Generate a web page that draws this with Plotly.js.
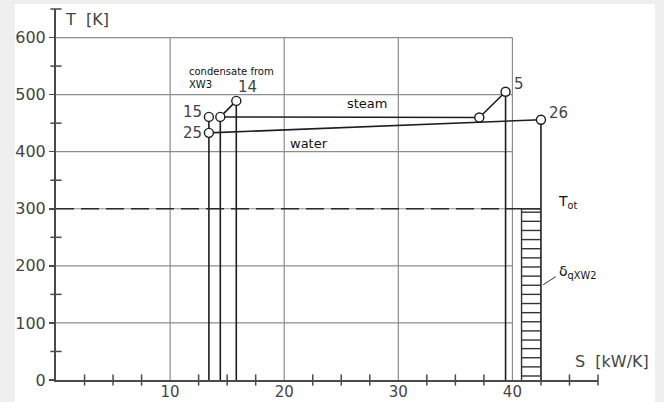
<!DOCTYPE html>
<html>
<head>
<meta charset="utf-8">
<script src="https://cdn.plot.ly/plotly-3.0.1.min.js"></script>
<style>
  html, body { margin: 0; padding: 0; background: #efefef; width: 664px; height: 402px; overflow: hidden; }
  #chart { position: absolute; left: 15px; top: 4px; width: 640px; height: 398px; background: #fff; }
</style>
</head>
<body>
<div id="chart"></div>
<script>
// ---- data ----
const stateS = [13.4, 13.4, 14.4, 15.8, 37.1, 39.4, 42.5];   // entropy flow S [kW/K]
const stateT = [433, 461, 461, 489, 460, 505, 456];          // temperature T [K]
const stateLabels = ['25', '15', '', '14', '', '5', '26'];
const steamPath = [3, 2, 4, 5];        // 14 -> 15' -> 5' -> 5
const waterPath = [0, 6];              // 25 -> 26
const link15to25 = [1, 0];
const dropPoints = [0, 2, 3, 5, 6];    // vertical lines down to T = 0
const Tot = 300;                       // ambient temperature
const hatchS = [40.8, 42.5];           // strip of heat delta q XW2
const hatchT = [7, 23, 39, 55, 70, 86, 102, 118, 134, 150, 166, 182, 198, 214, 230, 246, 262, 278, 294, 300];
const xGrid = [10, 20, 30, 40];
const yGrid = [100, 200, 300, 400, 500, 600];
const xTickVals = [10, 20, 30, 40];
const yTickVals = [0, 100, 200, 300, 400, 500, 600];
const xMinorTicks = [2.5, 5, 7.5, 12.5, 15, 17.5, 22.5, 25, 27.5, 32.5, 35, 37.5, 42.5, 45, 47.5];
const yMinorTicks = [50, 150, 250, 350, 450, 550, 650];

// ---- build traces ----
const FONT = 'DejaVu Sans, Verdana, sans-serif';
const LINE = '#1e1e1e';
const AX = '#4a4a4a';

const lx = [], ly = [];
function seg(idx) { idx.forEach(i => { lx.push(stateS[i]); ly.push(stateT[i]); }); lx.push(null); ly.push(null); }
seg(steamPath);
seg(waterPath);
seg(link15to25);
dropPoints.forEach(i => { lx.push(stateS[i], stateS[i], null); ly.push(stateT[i], 0, null); });

const hx = [hatchS[0], hatchS[0], hatchS[1], null];
const hy = [0, Tot, Tot, null];
hatchT.forEach(t => { hx.push(hatchS[0], hatchS[1], null); hy.push(t, t, null); });

const traces = [
  { x: lx, y: ly, mode: 'lines', line: { color: LINE, width: 1.6 }, hoverinfo: 'skip' },
  { x: [0, hatchS[0]], y: [Tot, Tot], mode: 'lines', line: { color: '#2a2a2a', width: 1.6, dash: '18px,7px' }, hoverinfo: 'skip' },
  { x: hx, y: hy, mode: 'lines', line: { color: '#333', width: 1.4 }, hoverinfo: 'skip' },
  { x: stateS, y: stateT, mode: 'markers', marker: { size: 9, color: '#fff', line: { color: LINE, width: 1.4 } }, hoverinfo: 'skip' },
  { x: xMinorTicks, y: xMinorTicks.map(() => 0), mode: 'markers', cliponaxis: false,
    marker: { symbol: 'line-ns', size: 8, line: { color: AX, width: 1.5 } }, hoverinfo: 'skip' },
  { x: yMinorTicks.map(() => 0), y: yMinorTicks, mode: 'markers', cliponaxis: false,
    marker: { symbol: 'line-ew', size: 8, line: { color: AX, width: 1.5 } }, hoverinfo: 'skip' }
];

const shapes = [];
xGrid.forEach(v => shapes.push({ type: 'line', layer: 'below', x0: v, x1: v, y0: 0, y1: yGrid[yGrid.length - 1], line: { color: '#8c8c8c', width: 1.2 } }));
yGrid.forEach(v => shapes.push({ type: 'line', layer: 'below', x0: 0, x1: xGrid[xGrid.length - 1], y0: v, y1: v, line: { color: '#8c8c8c', width: 1.2 } }));
// leader line for delta q label
shapes.push({ type: 'line', x0: 42.7, x1: 43.8, y0: 167, y1: 181, line: { color: '#333', width: 1 } });

const labelStyle = {
  '25': { xanchor: 'right', xshift: -5, yshift: 0 },
  '15': { xanchor: 'right', xshift: -5, yshift: 5 },
  '14': { xanchor: 'center', xshift: 11, yshift: 14 },
  '5':  { xanchor: 'center', xshift: 13, yshift: 8 },
  '26': { xanchor: 'center', xshift: 18, yshift: 7 }
};
const annotations = [];
stateLabels.forEach((t, i) => {
  if (!t) return;
  const s = labelStyle[t];
  annotations.push({ x: stateS[i], y: stateT[i], text: t, showarrow: false, xanchor: s.xanchor, yanchor: 'middle',
    xshift: s.xshift, yshift: s.yshift, font: { family: FONT, size: 15, color: '#444' } });
});
annotations.push(
  { x: 11.5, y: 529, text: 'condensate from<br>XW3', showarrow: false, xanchor: 'left', yanchor: 'middle', align: 'left',
    font: { family: FONT, size: 10, color: '#111' } },
  { x: 27.3, y: 485, text: 'steam', showarrow: false, xanchor: 'center', yanchor: 'middle', font: { family: FONT, size: 13, color: '#111' } },
  { x: 22.2, y: 415, text: 'water', showarrow: false, xanchor: 'center', yanchor: 'middle', font: { family: FONT, size: 13, color: '#111' } },
  { x: 43.8, y: 312, text: 'T<sub>ot</sub>', showarrow: false, xanchor: 'left', yanchor: 'middle', font: { family: FONT, size: 14, color: '#111' } },
  { x: 43.9, y: 190, text: 'δ<sub>qXW2</sub>', showarrow: false, xanchor: 'left', yanchor: 'middle', font: { family: FONT, size: 14, color: '#111' } },
  { x: 0.6, y: 632, text: 'T\u00a0\u00a0[K]', showarrow: false, xanchor: 'left', yanchor: 'middle', font: { family: FONT, size: 16, color: '#444' } },
  { x: 45.35, y: 32, text: 'S\u00a0\u00a0[kW/K]', showarrow: false, xanchor: 'left', yanchor: 'middle', font: { family: FONT, size: 16, color: '#444' } }
);

const layout = {
  width: 640, height: 398,
  margin: { l: 41, r: 57, t: 5, b: 22, pad: 0 },
  paper_bgcolor: '#fff', plot_bgcolor: '#fff',
  showlegend: false,
  xaxis: {
    range: [0, 47.5], showgrid: false, zeroline: false, showline: true, linecolor: AX, linewidth: 2,
    tickmode: 'array', tickvals: xTickVals, ticktext: xTickVals.map(String),
    ticks: '', ticklabelstandoff: -3,
    tickfont: { family: FONT, size: 15, color: '#444' }, fixedrange: true
  },
  yaxis: {
    range: [0, 650], showgrid: false, zeroline: false, showline: true, linecolor: AX, linewidth: 2,
    tickmode: 'array', tickvals: yTickVals, ticktext: yTickVals.map(String),
    ticks: 'outside', ticklen: 5, tickwidth: 1.5, tickcolor: AX,
    tickfont: { family: FONT, size: 16, color: '#444' }, fixedrange: true
  },
  shapes: shapes,
  annotations: annotations
};

Plotly.newPlot('chart', traces, layout, { staticPlot: true, displayModeBar: false });
</script>
</body>
</html>
